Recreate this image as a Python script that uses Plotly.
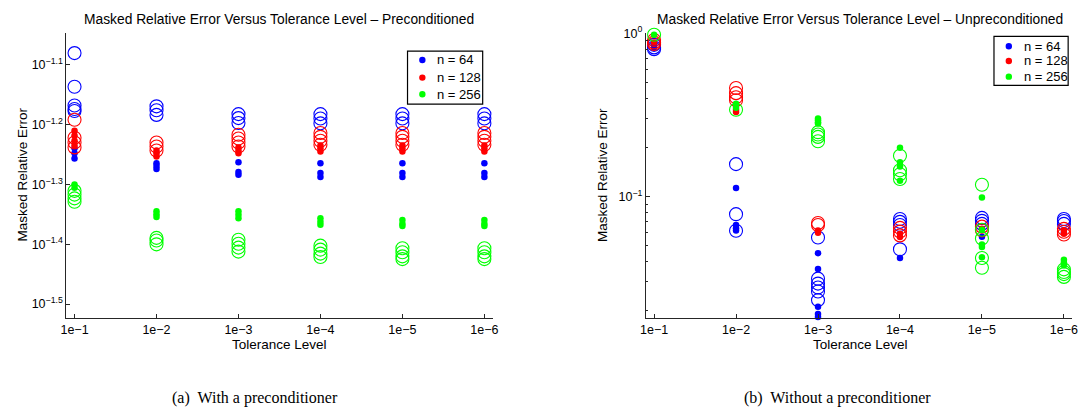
import plotly.graph_objects as go

tolerances = ["1e−1", "1e−2", "1e−3", "1e−4", "1e−5", "1e−6"]
sizes = ["n = 64", "n = 128", "n = 256"]
colors = ["#0000ff", "#ff0000", "#00ff00"]

# Preconditioned: per tolerance, filled-dot values and open-circle values
pre_n64_dots = [[0.0576, 0.0565, 0.0554], [0.0544, 0.0538, 0.0532], [0.0546, 0.0526, 0.0520],
                [0.0544, 0.0524, 0.0516], [0.0544, 0.0524, 0.0516], [0.0544, 0.0524, 0.0516]]
pre_n64_open = [[0.0831, 0.0730, 0.0679, 0.0670, 0.0665], [0.0677, 0.0667, 0.0655], [0.0657, 0.0647, 0.0635],
                [0.0657, 0.0646, 0.0634], [0.0657, 0.0646, 0.0634], [0.0657, 0.0646, 0.0634]]
pre_n128_dots = [[0.0616, 0.0605, 0.0593, 0.0582], [0.0571, 0.0565, 0.0558], [0.0578, 0.0571, 0.0565],
                 [0.0582, 0.0576, 0.0569], [0.0582, 0.0576, 0.0569], [0.0582, 0.0576, 0.0569]]
pre_n128_open = [[0.0643, 0.0600, 0.0589, 0.0578], [0.0589, 0.0580, 0.0571], [0.0607, 0.0598, 0.0589, 0.0580],
                 [0.0611, 0.0602, 0.0593, 0.0584], [0.0611, 0.0602, 0.0593, 0.0584], [0.0611, 0.0602, 0.0593, 0.0584]]
pre_n256_dots = [[0.0501, 0.0495], [0.0452, 0.0447, 0.0442], [0.0452, 0.0446, 0.0440],
                 [0.0440, 0.0434, 0.0429], [0.0437, 0.0431, 0.0427], [0.0437, 0.0431, 0.0427]]
pre_n256_open = [[0.0489, 0.0482, 0.0475, 0.0469], [0.0408, 0.0404, 0.0398], [0.0405, 0.0399, 0.0393, 0.0387],
                 [0.0396, 0.0390, 0.0384, 0.0379], [0.0392, 0.0386, 0.0380, 0.0376], [0.0392, 0.0386, 0.0380, 0.0376]]

# Unpreconditioned
unp_n64_dots = [[0.84, 0.82], [0.113, 0.067, 0.064, 0.062], [0.045, 0.036, 0.0211, 0.0191, 0.0183],
                [0.042], [0.0568], [0.060]]
unp_n64_open = [[0.85, 0.82, 0.80], [0.158, 0.078, 0.0617], [0.0561, 0.0314, 0.0293, 0.0277, 0.0262, 0.0232],
                [0.0728, 0.070, 0.067, 0.0475], [0.074, 0.071, 0.068], [0.0728, 0.0709, 0.068]]
unp_n128_dots = [[0.88], [0.34, 0.33], [0.062, 0.060], [0.0592, 0.0565], [0.0634], [0.0621, 0.0592]]
unp_n128_open = [[0.91, 0.88, 0.86], [0.462, 0.430, 0.406, 0.389], [0.0689, 0.067],
                 [0.0643, 0.061, 0.0578], [0.0654, 0.0621], [0.0634, 0.0609, 0.0585]]
unp_n256_dots = [[0.98], [0.37, 0.35], [0.301, 0.293, 0.285, 0.280], [0.199, 0.162, 0.153, 0.125],
                 [0.0986, 0.0626, 0.0509, 0.0490, 0.0425], [0.0410, 0.0395, 0.0380]]
unp_n256_open = [[0.98], [0.34], [0.248, 0.240, 0.232, 0.218], [0.178, 0.145, 0.137, 0.128],
                 [0.118, 0.0626, 0.0553, 0.0420, 0.0366], [0.0358, 0.0345, 0.0335, 0.0322]]

FONT = "Liberation Sans, Arial, sans-serif"
AXC = "#262626"
W, H = 1088, 410


def px(x):
    return x / W


def py(y):
    return 1 - y / H


def flat(groups):
    xs, ys = [], []
    for i, g in enumerate(groups):
        for v in g:
            xs.append(i)
            ys.append(v)
    return xs, ys


fig = go.Figure()
panels = [
    ("x", "y", [(pre_n64_dots, pre_n64_open), (pre_n128_dots, pre_n128_open), (pre_n256_dots, pre_n256_open)]),
    ("x2", "y2", [(unp_n64_dots, unp_n64_open), (unp_n128_dots, unp_n128_open), (unp_n256_dots, unp_n256_open)]),
]
for xa, ya, series in panels:
    for (dots, opens), name, col in zip(series, sizes, colors):
        ox, oy = flat(opens)
        fig.add_trace(go.Scatter(x=ox, y=oy, mode="markers", xaxis=xa, yaxis=ya, showlegend=False,
                                 cliponaxis=False,
                                 marker=dict(symbol="circle-open", size=13, color=col, line=dict(width=1.1, color=col))))
        dx, dy = flat(dots)
        fig.add_trace(go.Scatter(x=dx, y=dy, mode="markers", xaxis=xa, yaxis=ya, name=name, showlegend=False,
                                 cliponaxis=False,
                                 marker=dict(symbol="circle", size=6.5, color=col, line=dict(width=0))))

tickfont = dict(family=FONT, size=12.5, color="#000")
xcommon = dict(range=[-0.1, 5.1], tickmode="array", tickvals=list(range(6)), ticktext=tolerances,
               showline=True, linecolor=AXC, linewidth=1, ticks="inside", ticklen=4, tickcolor=AXC,
               showgrid=False, zeroline=False, tickfont=tickfont)
fig.update_layout(
    width=W, height=H, margin=dict(l=0, r=0, t=0, b=0),
    paper_bgcolor="white", plot_bgcolor="white", showlegend=False,
    xaxis=dict(domain=[px(61), px(492)], anchor="y", **xcommon),
    xaxis2=dict(domain=[px(647), px(1078)], anchor="y2", **xcommon),
    yaxis=dict(domain=[py(316), py(25)], anchor="x", type="log", range=[-1.523, -1.046],
               tickmode="array", tickvals=[10 ** -1.1, 10 ** -1.2, 10 ** -1.3, 10 ** -1.4, 10 ** -1.5],
               ticktext=["10<sup>−1.1</sup>", "10<sup>−1.2</sup>", "10<sup>−1.3</sup>", "10<sup>−1.4</sup>", "10<sup>−1.5</sup>"],
               showline=True, linecolor=AXC, linewidth=1, ticks="inside", ticklen=4, tickcolor=AXC,
               showgrid=False, zeroline=False, tickfont=tickfont),
    yaxis2=dict(domain=[py(316), py(25)], anchor="x2", type="log", range=[-1.743, 0.005],
                tickmode="array", tickvals=[0.1, 1], ticktext=["10<sup>−1</sup>", "10<sup>0</sup>"],
                showline=True, linecolor=AXC, linewidth=1, ticks="inside", ticklen=4, tickcolor=AXC,
                minor=dict(tickmode="array", tickvals=[0.02, 0.03, 0.04, 0.05, 0.06, 0.07, 0.08, 0.09,
                                                       0.2, 0.3, 0.4, 0.5, 0.6, 0.7, 0.8, 0.9],
                           ticks="inside", ticklen=2.5, tickcolor=AXC, showgrid=False),
                showgrid=False, zeroline=False, tickfont=tickfont),
)

ann = []
shapes = []
titles = ["Masked Relative Error Versus Tolerance Level – Preconditioned",
          "Masked Relative Error Versus Tolerance Level – Unpreconditioned"]
centers = [276.5, 864]
for t, c in zip(titles, centers):
    ann.append(dict(text=t, x=px(c), y=py(12), xref="paper", yref="paper", showarrow=False,
                    xanchor="center", yanchor="middle", font=dict(family=FONT, size=13.8, color="#000")))
    ann.append(dict(text="Tolerance Level", x=px(c), y=py(343), xref="paper", yref="paper", showarrow=False,
                    xanchor="center", yanchor="middle", font=dict(family=FONT, size=13.5, color="#000")))
for xl in [17, 603]:
    ann.append(dict(text="Masked Relative Error", x=px(xl), y=py(170), xref="paper", yref="paper", showarrow=False,
                    textangle=-90, xanchor="center", yanchor="middle", font=dict(family=FONT, size=13.5, color="#000")))
captions = ["(a)  With a preconditioner", "(b)  Without a preconditioner"]
for t, c in zip(captions, [252, 841]):
    ann.append(dict(text=t, x=px(c), y=py(398), xref="paper", yref="paper", showarrow=False,
                    xanchor="center", yanchor="middle",
                    font=dict(family="Liberation Serif, Times New Roman, serif", size=16, color="#000")))

# Legends (box, marker dot, label) for each panel
legend_specs = [
    dict(box=(406, 44, 482, 98), dot_x=421, text_x=434, rows=[53, 71, 88]),
    dict(box=(999, 29, 1074, 79), dot_x=1014, text_x=1027, rows=[39, 54, 70]),
]
for spec in legend_specs:
    x0, y0, x1, y1 = spec["box"]
    shapes.append(dict(type="rect", xref="paper", yref="paper", x0=px(x0), x1=px(x1), y0=py(y1), y1=py(y0),
                       line=dict(color="#000", width=1.2), fillcolor="white", layer="above"))
    for name, col, ry in zip(sizes, colors, spec["rows"]):
        shapes.append(dict(type="circle", xref="paper", yref="paper", xsizemode="pixel", ysizemode="pixel",
                           xanchor=px(spec["dot_x"]), yanchor=py(ry), x0=-3.2, x1=3.2, y0=-3.2, y1=3.2,
                           fillcolor=col, line=dict(width=0), layer="above"))
        ann.append(dict(text=name, x=px(spec["text_x"]), y=py(ry), xref="paper", yref="paper", showarrow=False,
                        xanchor="left", yanchor="middle", font=dict(family=FONT, size=13, color="#000")))

fig.update_layout(annotations=ann, shapes=shapes)

fig.write_html("out.html")
